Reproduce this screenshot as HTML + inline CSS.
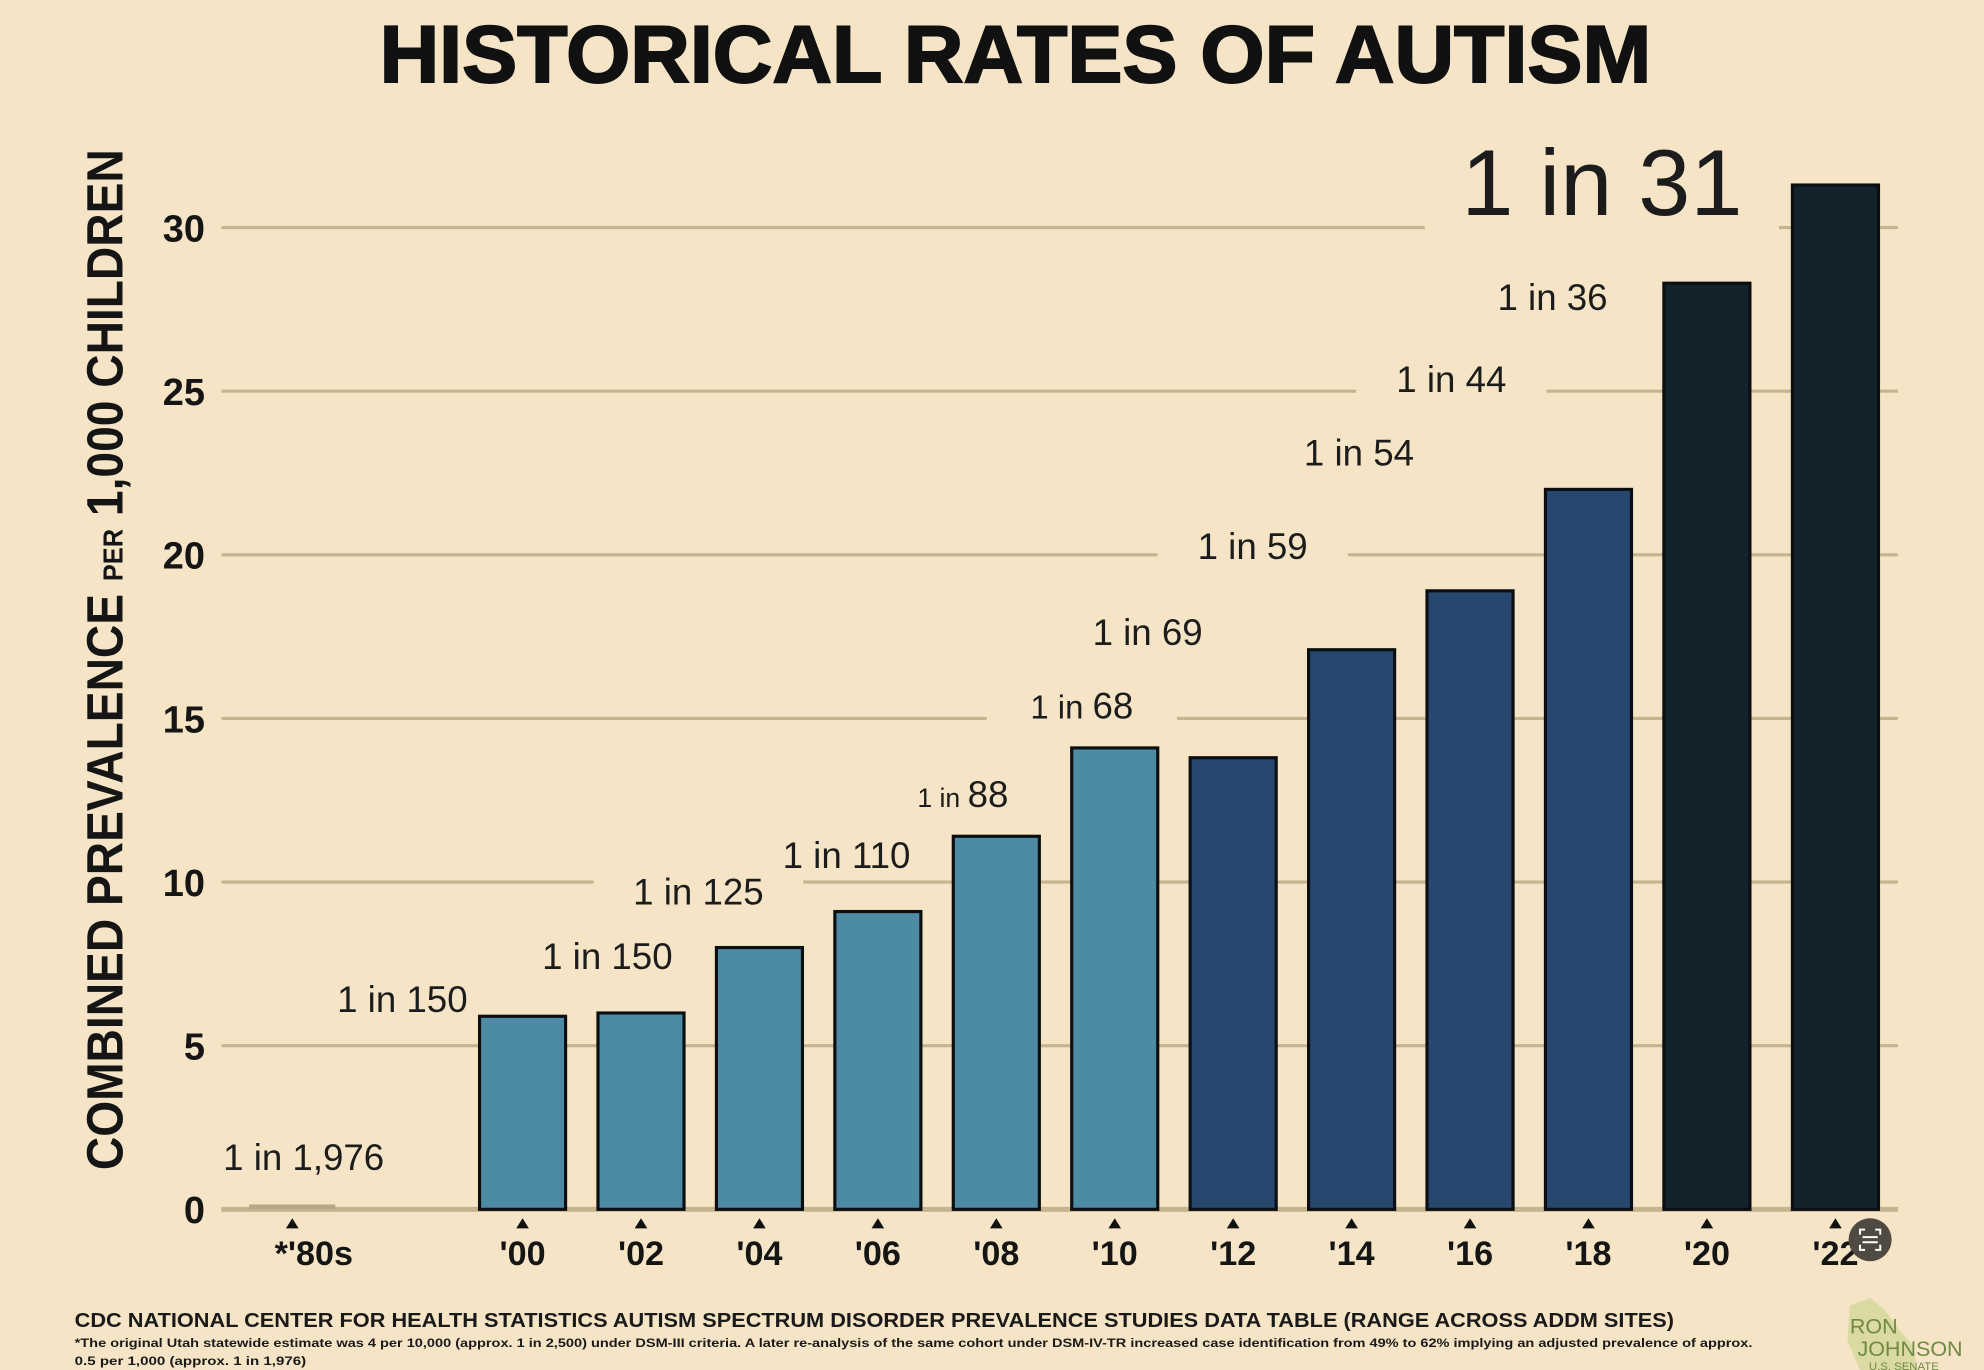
<!DOCTYPE html>
<html><head><meta charset="utf-8"><style>
html,body{margin:0;padding:0;background:#f5e5c6;}
svg{display:block;}
text{font-family:"Liberation Sans",sans-serif;}
</style></head><body>
<svg id="chart" width="1984" height="1370" viewBox="0 0 1568 1083" preserveAspectRatio="none" xmlns="http://www.w3.org/2000/svg">
<rect x="0" y="0" width="1568" height="1083" fill="#f5e5c6"/>
<text x="300" y="65" font-size="64" font-weight="bold" textLength="1005" lengthAdjust="spacingAndGlyphs" fill="#111" stroke="#111" stroke-width="1.5">HISTORICAL RATES OF AUTISM</text>
<text transform="translate(97,925) rotate(-90)" font-size="40" font-weight="bold" textLength="807" lengthAdjust="spacingAndGlyphs" fill="#151515">COMBINED PREVALENCE <tspan font-size="22">PER</tspan> 1,000 CHILDREN</text>
<g id="grid"></g>
<g id="backdrops"></g>
<g id="bars"></g>
<g id="labels"></g>
<g id="xaxis"></g>
<g id="yaxis"></g>
<text x="59" y="1049" font-size="16" font-weight="bold" textLength="1264" lengthAdjust="spacingAndGlyphs" fill="#1a1a1a">CDC NATIONAL CENTER FOR HEALTH STATISTICS AUTISM SPECTRUM DISORDER PREVALENCE STUDIES DATA TABLE (RANGE ACROSS ADDM SITES)</text>
<text x="59" y="1065" font-size="9.5" font-weight="bold" textLength="1326" lengthAdjust="spacingAndGlyphs" fill="#1a1a1a">*The original Utah statewide estimate was 4 per 10,000 (approx. 1 in 2,500) under DSM-III criteria. A later re-analysis of the same cohort under DSM-IV-TR increased case identification from 49% to 62% implying an adjusted prevalence of approx.</text>
<text x="59" y="1079" font-size="9.5" font-weight="bold" textLength="183" lengthAdjust="spacingAndGlyphs" fill="#1a1a1a">0.5 per 1,000 (approx. 1 in 1,976)</text>
<g>
<path d="M1462 1032 L1478 1026 L1490 1036 L1500 1050 L1512 1064 L1515 1083 L1470 1083 L1460 1060 Z" fill="#d6d79a" opacity="0.8"/>
<text x="1462" y="1054" font-family="Liberation Serif,serif" font-size="17" fill="#6f8a45">RON</text>
<text x="1468" y="1072" font-family="Liberation Serif,serif" font-size="17" fill="#6f8a45">JOHNSON</text>
<text x="1477" y="1083" font-family="Liberation Serif,serif" font-size="9" fill="#6f8a45">U.S. SENATE</text>
</g>
<g>
<circle cx="1478" cy="980" r="17" fill="#4f4a42"/>
<path d="M1470 976v-4h4 M1482 972h4v4 M1486 984v4h-4 M1474 988h-4v-4 M1472 978h12 M1472 982h12" stroke="#fff" stroke-width="1.6" fill="none"/>
</g>
</svg>
<script>
const categories = ["*'80s","'00","'02","'04","'06","'08","'10","'12","'14","'16","'18","'20","'22"];
const prevalence = [0.15,5.9,6.0,8.0,9.1,11.4,14.1,13.8,17.1,18.9,22.0,28.3,31.3];
const rateLabels = ["1,976","150","150","125","110","88","68","69","59","54","44","36","31"];
const yTicks = [0,5,10,15,20,25,30];
const colorGroup = [0,0,0,0,0,0,0,1,1,1,1,2,2];
// layout offsets for labels (pixels, not data)
const labelCx = [240,318,480,552,669,761,855,907,990,1074,1147,1227,1266];
const labelBy = [925,800,766,715,686,638,568,510,442,368,310,245,170];
const palette = ["#4d8aa3","#27476e","#13232b"];
const NS="http://www.w3.org/2000/svg";
function y(v){return 956 - v*25.87;}
function xc(i){ if(i===0) return 231; const b=413+(i-1)*93.6; return i===categories.length-1? b+8 : b;}
const BW=68;
function mk(tag,attrs,parent){const e=document.createElementNS(NS,tag);for(const k in attrs)e.setAttribute(k,attrs[k]);parent.appendChild(e);return e;}
const grid=document.getElementById('grid'),backdrops=document.getElementById('backdrops'),bars=document.getElementById('bars'),labels=document.getElementById('labels'),xaxis=document.getElementById('xaxis'),yaxis=document.getElementById('yaxis');
yTicks.forEach(t=>{
  const ln=mk('line',{x1:175,x2:1500,y1:y(t),y2:y(t),stroke:'#c5b48f','stroke-width':t===0?4:2.5},grid);
  
  
  const tx=mk('text',{x:162,y:y(t)+11,'text-anchor':'end','font-size':30,'font-weight':'bold',fill:'#151515'},yaxis);
  tx.textContent=t;
  
  
});
prevalence.forEach((v,i)=>{
  const isBig=i===categories.length-1;
  const fs=isBig?74:29;
  const w=isBig?220:(rateLabels[i].length+4)*fs*0.52;
  const bg=mk('rect',{x:labelCx[i]-w/2-30,y:labelBy[i]-fs*0.8,width:w+60,height:fs,fill:'#f5e5c6'},backdrops);
  
  
  const r=mk('rect',{x:xc(i)-BW/2,y:y(v),width:BW,height:y(0)-y(v),fill:i===0?'#b9a888':palette[colorGroup[i]],stroke:i===0?'none':'#0b0f12','stroke-width':2.5},bars);
  
  
  const t=mk('text',{x:labelCx[i],y:labelBy[i],'text-anchor':'middle','font-size':fs,fill:'#1c1c1c'},labels);
  
  
  if(i===5){
    const a=mk('tspan',{'font-size':21},t);a.textContent='1 in  ';
    const b=mk('tspan',{},t);b.textContent=rateLabels[i];
  } else if(i===6){
    const a=mk('tspan',{'font-size':26},t);a.textContent='1 in ';
    const b=mk('tspan',{},t);b.textContent=rateLabels[i];
  } else {
    t.textContent='1 in '+rateLabels[i];
  }
  const tri=mk('path',{d:`M${xc(i)-5} 971 L${xc(i)+5} 971 L${xc(i)} 963 Z`,fill:'#111'},xaxis);
  
  
  const xl=mk('text',{x:xc(i)+(i===0?17:0),y:1000,'text-anchor':'middle','font-size':27,'font-weight':'bold',fill:'#151515'},xaxis);
  xl.textContent=categories[i];
  
  
});
</script>
</body></html>
